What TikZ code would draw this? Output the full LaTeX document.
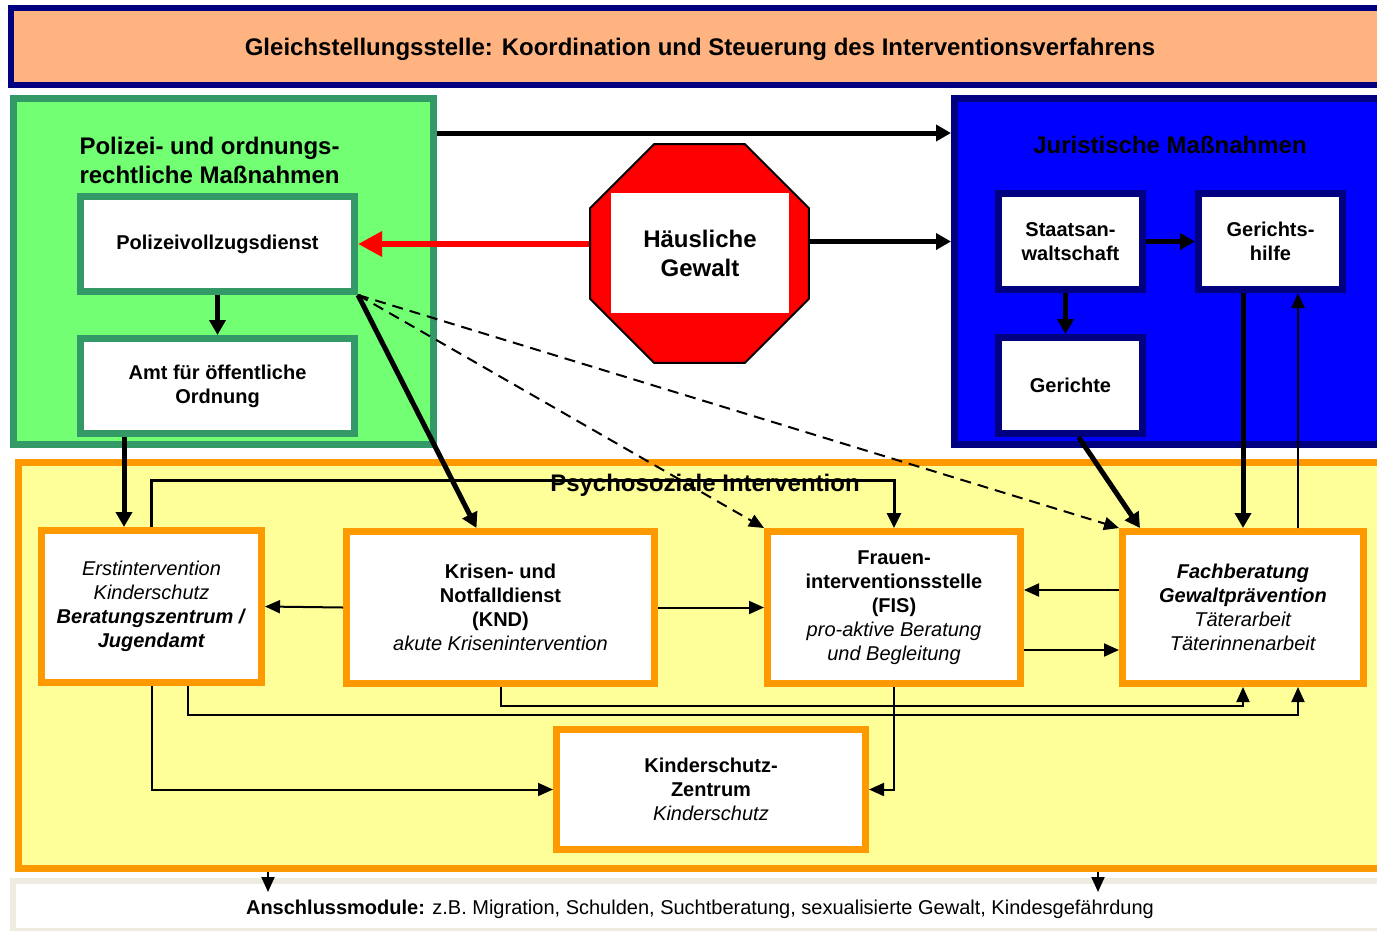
\documentclass[tikz,border=0pt]{standalone}
\usepackage{fontspec}
\setmainfont{Liberation Sans}
\usetikzlibrary{arrows.meta,shapes.geometric}

\definecolor{pfirsich}{HTML}{FFB380}
\definecolor{marine}{HTML}{000080}
\definecolor{hellgruen}{HTML}{73FF73}
\definecolor{dunkelgruen}{HTML}{339966}
\definecolor{blau}{HTML}{0000FF}
\definecolor{hellgelb}{HTML}{FFFF99}
\definecolor{kastenorange}{HTML}{FF9900}
\definecolor{grau}{HTML}{EEECE1}

\begin{document}
\begin{tikzpicture}[x=1pt,y=-1pt]
	\tikzstyle{bereich}=[draw,inner sep=0pt,line width=7pt]
	\tikzstyle{kasten}=[draw,fill=white,inner sep=0pt,line width=7pt,align=center,font=\fontsize{20}{24}\selectfont]
	\tikzstyle{gruenkasten}=[kasten,draw=dunkelgruen,minimum width=274pt,minimum height=95pt]
	\tikzstyle{blaukasten}=[kasten,draw=marine,minimum width=144pt,minimum height=96pt]
	\tikzstyle{gelbkasten}=[kasten,draw=kastenorange,minimum height=152pt]
	\tikzstyle{titel}=[font=\fontsize{24}{29}\selectfont\bfseries]
	\tikzstyle{dick}=[line width=5pt,-{Triangle[length=15pt,width=16pt]}]
	\tikzstyle{mittel}=[line width=3pt,-{Triangle[length=15pt,width=14pt]}]
	\tikzstyle{duenn}=[line width=2pt,-{Triangle[length=15pt,width=13pt]}]
	\tikzstyle{gestrichelt}=[duenn,dash pattern=on 11pt off 7pt]
	\useasboundingbox (0,0) rectangle (1377,930);
	% Koordination
	\node[bereich,draw=marine,line width=6pt,fill=pfirsich,minimum width=1378pt,minimum height=77pt] (Gst) at (700,46.5) {};
	\node[titel] (GstText) at (700,49) {Gleichstellungsstelle: Koordination und Steuerung des Interventionsverfahrens};
	% drei Bereiche
	\node[bereich,draw=dunkelgruen,fill=hellgruen,minimum width=420pt,minimum height=346pt] (Pz) at (223.5,271.5) {};
	\node[bereich,draw=marine,fill=blau,minimum width=436pt,minimum height=346pt] (Jur) at (1172.5,271.5) {};
	\node[bereich,draw=kastenorange,line width=7pt,fill=hellgelb,minimum width=1372pt,minimum height=406pt] (Psy) at (704.5,665.5) {};
	\node[bereich,draw=grau,line width=6pt,fill=white,minimum width=1374pt,minimum height=50pt] (Ans) at (700,906) {};
	\node[font=\fontsize{20}{24}\selectfont] (AnsText) at (700,909) {\textbf{Anschlussmodule:} z.B. Migration, Schulden, Suchtberatung, sexualisierte Gewalt, Kindesgefährdung};
	\node[titel,align=left,anchor=west] (PzTitel) at (76,160) {Polizei- und ordnungs-\\rechtliche Maßnahmen};
	\node[titel] (JurTitel) at (1170,145) {Juristische Maßnahmen};
	\node[titel] (PsyTitel) at (705,485) {Psychosoziale Intervention};
	% Polizei
	\node[gruenkasten] (Pol) at (217.5,244) {\textbf{Polizeivollzugsdienst}};
	\node[gruenkasten] (Amt) at (217.5,386) {\textbf{Amt für öffentliche}\\\textbf{Ordnung}};
	% Justiz
	\node[blaukasten] (StA) at (1070.5,241.5) {\textbf{Staatsan-}\\\textbf{waltschaft}};
	\node[blaukasten] (GH) at (1270.5,241.5) {\textbf{Gerichts-}\\\textbf{hilfe}};
	\node[blaukasten] (Ger) at (1070.5,385.5) {\textbf{Gerichte}};
	% Stoppschild
	\node[regular polygon,regular polygon sides=8,minimum size=237pt,inner sep=0pt,fill=red,draw=black,line width=2pt] (Stop) at (699.5,253.5) {};
	\node[fill=white,minimum width=178pt,minimum height=120pt,inner sep=0pt,align=center,titel] (Gewalt) at (700,253) {Häusliche\\Gewalt};
	% Psychosoziale Stellen
	\node[gelbkasten,minimum width=220pt] (Erst) at (151.5,606.5) {\textit{Erstintervention}\\\textit{Kinderschutz}\\\textbf{\textit{Beratungszentrum /}}\\\textbf{\textit{Jugendamt}}};
	\node[gelbkasten,minimum width=308pt] (KND) at (500.5,607.5) {\textbf{Krisen- und}\\\textbf{Notfalldienst}\\\textbf{(KND)}\\\textit{akute Krisenintervention}};
	\node[gelbkasten,minimum width=253pt] (FIS) at (894,607.5) {\textbf{Frauen-}\\\textbf{interventionsstelle}\\\textbf{(FIS)}\\\textit{pro-aktive Beratung}\\\textit{und Begleitung}};
	\node[gelbkasten,minimum width=241pt] (Fach) at (1243,607.5) {\textbf{\textit{Fachberatung}}\\\textbf{\textit{Gewaltprävention}}\\\textit{Täterarbeit}\\\textit{Täterinnenarbeit}};
	\node[gelbkasten,minimum width=309pt,minimum height=120pt] (KSZ) at (711,789.5) {\textbf{Kinderschutz-}\\\textbf{Zentrum}\\\textit{Kinderschutz}};
	\coordinate (AnsL) at (268,0);
	\coordinate (AnsR) at (1098,0);
	% Verbindungen
	\draw[dick] ([yshift=138.5pt]Pz.east) -- ([yshift=138.5pt]Jur.west);
	\draw[dick] (Stop.east |- StA.west) -- (Jur.west |- StA.west);
	\draw[line width=6pt,red,-{Triangle[length=24pt,width=24pt]}] (Stop.west |- Pol.east) -- (Pol.east);
	\draw[dick] (Pol.south) -- (Amt.north);
	\draw[dick] (StA.east) -- (GH.west);
	\draw[dick] ([xshift=-5pt]StA.south) -- ([xshift=-5pt]Ger.north);
	\draw[dick] ([xshift=-93.5pt]Amt.south) -- ([xshift=-27.5pt]Erst.north);
	\draw[dick] (Pol.south east) -- ([xshift=-24pt]KND.north);
	\draw[gestrichelt] (Pol.south east) -- (FIS.north west);
	\draw[gestrichelt] (Pol.south east) -- (Fach.north west);
	\draw[dick] ([xshift=8pt]Ger.south) -- ([xshift=-103pt]Fach.north);
	\draw[dick] ([xshift=-27.5pt]GH.south) -- (Fach.north);
	\draw[duenn] ([xshift=55pt]Fach.north) -- ([xshift=27.5pt]GH.south);
	\draw[mittel] (Erst.north) -- ++(0,-47) -| (FIS.north);
	\draw[duenn] (KND.west) -- (Erst.east);
	\draw[duenn] (KND.east) -- (FIS.west);
	\draw[duenn] ([yshift=17.5pt]Fach.west) -- ([yshift=17.5pt]FIS.east);
	\draw[duenn] ([yshift=-42.5pt]FIS.east) -- ([yshift=-42.5pt]Fach.west);
	\draw[duenn] (KND.south) -- ++(0,19) -| (Fach.south);
	\draw[duenn] ([xshift=36.5pt]Erst.south) -- ++(0,29) -| ([xshift=55pt]Fach.south);
	\draw[duenn] (Erst.south) |- (KSZ.west);
	\draw[duenn] (FIS.south) |- (KSZ.east);
	\draw[duenn,shorten >=-14pt] (Psy.south -| AnsL) -- (Ans.north -| AnsL);
	\draw[duenn,shorten >=-14pt] (Psy.south -| AnsR) -- (Ans.north -| AnsR);
\end{tikzpicture}
\end{document}
